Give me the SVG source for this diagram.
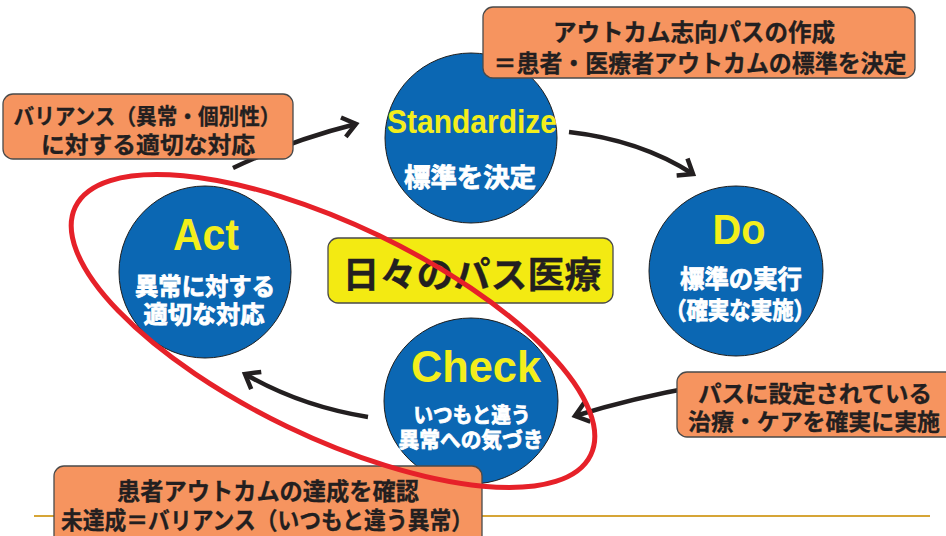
<svg xmlns="http://www.w3.org/2000/svg" width="946" height="536" viewBox="0 0 946 536">
<defs>
<style>
.jp{font-family:"Noto Sans CJK JP","Noto Sans",sans-serif;font-weight:bold;text-anchor:middle;dominant-baseline:central;}
.en{font-family:"Liberation Sans",Arial,sans-serif;font-weight:bold;text-anchor:middle;fill:#f3ee1c;}
.wt{fill:#ffffff;stroke:#ffffff;stroke-width:0.8;}
.bk{fill:#231f20;stroke:#231f20;stroke-width:0.3;}
.circle{fill:#0b67b3;stroke:#1d1d1d;stroke-width:1;}
.obox{fill:#f6945f;stroke:#4a4a4a;stroke-width:1.3;}
.ybox{fill:#f3ea12;stroke:#4a4a4a;stroke-width:1.3;}
.arrow{fill:none;stroke:#231f20;stroke-width:4.5;stroke-linecap:butt;marker-end:url(#head);}
.head{fill:none;stroke:#231f20;stroke-width:4.5;stroke-linecap:butt;stroke-linejoin:miter;}
</style>
<marker id="head" markerUnits="userSpaceOnUse" markerWidth="30" markerHeight="30" refX="0" refY="0" orient="auto" viewBox="-20 -15 30 30" overflow="visible">
<path class="head" d="M -13 -10 L 0 0 L -13 10"/>
</marker>
</defs>
<rect width="946" height="536" fill="#ffffff"/>
<line x1="34" y1="516" x2="930" y2="516" stroke="#d6a536" stroke-width="2"/>
<g id="connectors">
<path class="arrow" d="M 233 168 Q 292 140 356 124"/>
<path class="arrow" d="M 569 132 Q 640 140 693 174"/>
<path class="arrow" d="M 700 386 Q 632 398 575 416"/>
<path class="arrow" d="M 368 417 Q 300 406 245 374"/>
</g>
<g id="node-standardize">
<ellipse class="circle" cx="471" cy="138" rx="86" ry="85"/>
<text class="en" x="472" y="133" font-size="34" textLength="170" lengthAdjust="spacingAndGlyphs">Standardize</text>
<text class="jp wt" x="470" y="175" font-size="26" textLength="132" lengthAdjust="spacingAndGlyphs">標準を決定</text>
</g>
<g id="node-do">
<ellipse class="circle" cx="736" cy="271" rx="87" ry="85"/>
<text class="en" x="739" y="244" font-size="43" textLength="53" lengthAdjust="spacingAndGlyphs">Do</text>
<text class="jp wt" x="741" y="277" font-size="25" textLength="122" lengthAdjust="spacingAndGlyphs">標準の実行</text>
<text class="jp wt" x="740" y="308" font-size="24" textLength="150" lengthAdjust="spacingAndGlyphs">（確実な実施）</text>
</g>
<g id="node-act">
<circle class="circle" cx="205" cy="272" r="86"/>
<text class="en" x="206" y="250" font-size="44" textLength="66" lengthAdjust="spacingAndGlyphs">Act</text>
<text class="jp wt" x="205" y="284" font-size="24" textLength="140" lengthAdjust="spacingAndGlyphs">異常に対する</text>
<text class="jp wt" x="204" y="312" font-size="24" textLength="121" lengthAdjust="spacingAndGlyphs">適切な対応</text>
</g>
<g id="node-check">
<ellipse class="circle" cx="471" cy="401" rx="87" ry="83"/>
<text class="en" x="476" y="382" font-size="44" textLength="130" lengthAdjust="spacingAndGlyphs">Check</text>
<text class="jp wt" x="472" y="413" font-size="21" textLength="117" lengthAdjust="spacingAndGlyphs">いつもと違う</text>
<text class="jp wt" x="471" y="438" font-size="21" textLength="145" lengthAdjust="spacingAndGlyphs">異常への気づき</text>
</g>
<g id="node-center">
<rect class="ybox" x="328" y="238" width="285" height="65" rx="10"/>
<text class="jp bk" x="472" y="272" font-size="36" textLength="259" lengthAdjust="spacingAndGlyphs">日々のパス医療</text>
</g>
<g id="note-standardize">
<rect class="obox" x="483" y="7" width="432" height="71" rx="10"/>
<text class="jp bk" x="694" y="30" font-size="24" textLength="282" lengthAdjust="spacingAndGlyphs">アウトカム志向パスの作成</text>
<text class="jp bk" x="700" y="61" font-size="24" textLength="413" lengthAdjust="spacingAndGlyphs">＝患者・医療者アウトカムの標準を決定</text>
</g>
<g id="note-act">
<rect class="obox" x="3" y="94" width="290" height="65" rx="10"/>
<text class="jp bk" x="147" y="114" font-size="22" textLength="267" lengthAdjust="spacingAndGlyphs">バリアンス（異常・個別性）</text>
<text class="jp bk" x="148" y="143" font-size="23" textLength="214" lengthAdjust="spacingAndGlyphs">に対する適切な対応</text>
</g>
<g id="note-do">
<rect class="obox" x="677" y="372" width="280" height="65" rx="10"/>
<text class="jp bk" x="815" y="392" font-size="23" textLength="234" lengthAdjust="spacingAndGlyphs">パスに設定されている</text>
<text class="jp bk" x="814" y="420" font-size="23" textLength="252" lengthAdjust="spacingAndGlyphs">治療・ケアを確実に実施</text>
</g>
<g id="note-check">
<rect class="obox" x="54" y="466" width="428" height="84" rx="10"/>
<text class="jp bk" x="268" y="489" font-size="24" textLength="302" lengthAdjust="spacingAndGlyphs">患者アウトカムの達成を確認</text>
<text class="jp bk" x="267" y="518" font-size="24" textLength="412" lengthAdjust="spacingAndGlyphs">未達成＝バリアンス（いつもと違う異常）</text>
</g>
<g id="highlight">
<ellipse cx="333" cy="331" rx="286" ry="106" transform="rotate(25.7 333 331)" fill="none" stroke="#e62129" stroke-width="5"/>
</g>
</svg>
